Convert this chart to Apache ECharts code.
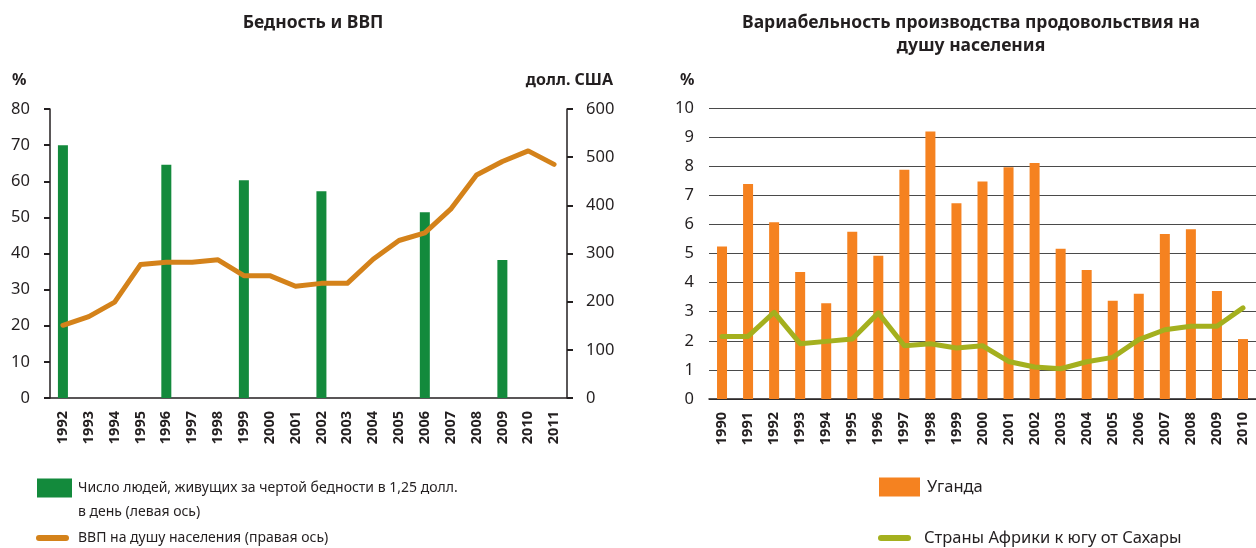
<!DOCTYPE html>
<html>
<head>
<meta charset="utf-8">
<script src="https://cdn.jsdelivr.net/npm/echarts@6/dist/echarts.min.js"></script>
<style>
    html, body { margin: 0; padding: 0; background: #fff; }
    #main { width: 1256px; height: 548px; }
</style>
</head>
<body>
<div id="main"></div>
<script>
    // левый график: бедность и ВВП
    var yearsLeft = ['1992', '1993', '1994', '1995', '1996', '1997', '1998', '1999', '2000', '2001',
        '2002', '2003', '2004', '2005', '2006', '2007', '2008', '2009', '2010', '2011'];
    var poverty = [70, null, null, null, 64.6, null, null, 60.3, null, null,
        57.2, null, null, null, 51.4, null, null, 38.2, null, null];
    var gdp = [151, 169, 199, 277, 282, 282, 287, 254, 254, 232,
        238, 238, 288, 327, 343, 392, 463, 491, 513, 485];

    // правый график: вариабельность производства продовольствия
    var yearsRight = ['1990', '1991', '1992', '1993', '1994', '1995', '1996', '1997', '1998', '1999', '2000',
        '2001', '2002', '2003', '2004', '2005', '2006', '2007', '2008', '2009', '2010'];
    var uganda = [5.24, 7.39, 6.07, 4.36, 3.29, 5.75, 4.92, 7.88, 9.19, 6.73, 7.47,
        7.96, 8.11, 5.16, 4.43, 3.38, 3.62, 5.67, 5.83, 3.71, 2.06];
    var ssa = [2.15, 2.15, 2.98, 1.9, 1.98, 2.06, 2.96, 1.83, 1.9, 1.75, 1.83,
        1.29, 1.1, 1.04, 1.28, 1.43, 2.04, 2.38, 2.5, 2.5, 3.13];

    var FONT = '"Noto Sans", "Open Sans", sans-serif';
    var TXT = '#231f20';
    var GREEN = '#138a3c', ORANGE_LINE = '#d4821a', ORANGE_BAR = '#f58220', OLIVE = '#a4b01e';
    var lineIcon = 'path://M3,0 H30 A3,3 0 0 1 30,6 H3 A3,3 0 0 1 3,0 Z';

    var nameBar = 'Число людей, живущих за чертой бедности в 1,25 долл. в день (левая ось)';
    var nameGdp = 'ВВП на душу населения (правая ось)';

    var xLabel = { rotate: 90, fontSize: 14.5, fontWeight: 'bold', color: TXT, fontFamily: FONT, margin: 13 };
    var yLabel = { fontSize: 16.5, color: TXT, fontFamily: FONT };
    var axisDark = { lineStyle: { color: TXT, width: 1.5 } };
    var legLeftText = { fontSize: 14, color: TXT, fontFamily: FONT, lineHeight: 20 };
    var legRightText = { fontSize: 16.5, color: TXT, fontFamily: FONT, lineHeight: 20 };

    var myChart = echarts.init(document.getElementById('main'));
    var option = {
        animation: false,
        textStyle: { fontFamily: FONT },
        title: [
            { text: 'Бедность и ВВП', left: 313, top: 12, textAlign: 'center', padding: 0,
              textStyle: { fontSize: 17.5, fontWeight: 'bold', color: TXT, fontFamily: FONT, lineHeight: 23 } },
            { text: 'Вариабельность производства продовольствия на\nдушу населения', left: 971, top: 12, textAlign: 'center', padding: 0,
              textStyle: { fontSize: 17.5, fontWeight: 'bold', color: TXT, fontFamily: FONT, lineHeight: 23 } }
        ],
        grid: [
            { left: 50, top: 109, width: 517, height: 289 },
            { left: 709, top: 108, width: 550, height: 291 }
        ],
        xAxis: [
            { type: 'category', gridIndex: 0, data: yearsLeft, axisLine: axisDark,
              axisTick: { lineStyle: { color: TXT, width: 2 }, length: 6 }, axisLabel: xLabel },
            { type: 'category', gridIndex: 1, data: yearsRight, axisLine: axisDark,
              axisTick: { lineStyle: { color: TXT, width: 2 }, length: 6 }, axisLabel: xLabel }
        ],
        yAxis: [
            { type: 'value', gridIndex: 0, min: 0, max: 80, interval: 10, position: 'left',
              axisLine: { show: true, lineStyle: { color: TXT, width: 1.5 } },
              axisTick: { show: true, length: 6, lineStyle: { color: TXT, width: 2 } },
              splitLine: { show: false }, axisLabel: Object.assign({ margin: 20 }, yLabel) },
            { type: 'value', gridIndex: 0, min: 0, max: 600, interval: 100, position: 'right',
              axisLine: { show: true, lineStyle: { color: TXT, width: 1.5 } },
              axisTick: { show: true, length: 6, lineStyle: { color: TXT, width: 2 } },
              splitLine: { show: false }, axisLabel: Object.assign({ margin: 19 }, yLabel) },
            { type: 'value', gridIndex: 1, min: 0, max: 10, interval: 1,
              axisLine: { show: false }, axisTick: { show: false },
              splitLine: { lineStyle: { color: '#4a4a4a', width: 1.2 } },
              axisLabel: Object.assign({ margin: 15 }, yLabel) }
        ],
        legend: [
            { left: 37, top: 478, padding: 0, itemWidth: 35, itemHeight: 19, itemGap: 0, icon: 'rect', data: [nameBar],
              formatter: function () { return 'Число людей, живущих за чертой бедности в 1,25 долл.'; },
              textStyle: Object.assign({ padding: [0, 0, 0, 1] }, legLeftText) },
            { left: 36, top: 528, padding: 0, itemWidth: 33, itemHeight: 6, icon: lineIcon, data: [nameGdp],
              textStyle: Object.assign({ padding: [0, 0, 0, 4] }, legLeftText) },
            { left: 879, top: 477, padding: 0, itemWidth: 41, itemHeight: 19, icon: 'rect', data: ['Уганда'],
              textStyle: Object.assign({ padding: [0, 0, 0, 2] }, legRightText) },
            { left: 878, top: 528, padding: 0, itemWidth: 39, itemHeight: 6, icon: lineIcon, data: ['Страны Африки к югу от Сахары'],
              textStyle: Object.assign({ padding: [0, 0, 0, 5] }, legRightText) }
        ],
        graphic: [
            { type: 'text', x: 78, y: 512, style: { text: 'в день (левая ось)', fontSize: 14, fill: TXT, fontFamily: FONT, verticalAlign: 'middle' } },
            { type: 'text', x: 12, y: 80, style: { text: '%', fontSize: 16, fontWeight: 'bold', fill: TXT, fontFamily: FONT, verticalAlign: 'middle' } },
            { type: 'text', x: 613, y: 80, style: { text: 'долл. США', fontSize: 16, fontWeight: 'bold', fill: TXT, fontFamily: FONT, align: 'right', verticalAlign: 'middle' } },
            { type: 'text', x: 680, y: 80, style: { text: '%', fontSize: 16, fontWeight: 'bold', fill: TXT, fontFamily: FONT, verticalAlign: 'middle' } }
        ],
        series: [
            { name: nameBar, type: 'bar', xAxisIndex: 0, yAxisIndex: 0, data: poverty,
              barWidth: 10, itemStyle: { color: GREEN } },
            { name: nameGdp, type: 'line', xAxisIndex: 0, yAxisIndex: 1, data: gdp,
              symbol: 'none', itemStyle: { color: ORANGE_LINE },
              lineStyle: { color: ORANGE_LINE, width: 5, cap: 'round', join: 'round' } },
            { name: 'Уганда', type: 'bar', xAxisIndex: 1, yAxisIndex: 2, data: uganda,
              barWidth: 10, itemStyle: { color: ORANGE_BAR } },
            { name: 'Страны Африки к югу от Сахары', type: 'line', xAxisIndex: 1, yAxisIndex: 2, data: ssa,
              symbol: 'none', itemStyle: { color: OLIVE },
              lineStyle: { color: OLIVE, width: 5, cap: 'round', join: 'round' } }
        ]
    };
    myChart.setOption(option);
</script>
</body>
</html>
